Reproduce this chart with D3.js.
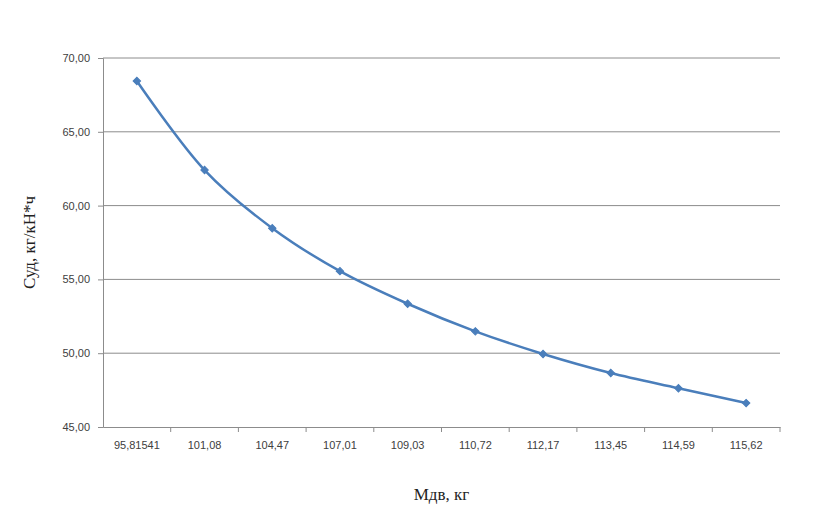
<!DOCTYPE html>
<meta charset="utf-8">
<style>
  body { margin: 0; background: #fff; }
  text { font-family: "Liberation Sans", Arial, sans-serif; }
</style>
<script src="https://cdn.jsdelivr.net/npm/d3@7"></script>
<body>
<script>

var categories = ["95,81541", "101,08", "104,47", "107,01", "109,03", "110,72", "112,17", "113,45", "114,59", "115,62"];
var values = [68.44, 62.41, 58.47, 55.56, 53.35, 51.48, 49.95, 48.66, 47.63, 46.62];
var yTicks = [45, 50, 55, 60, 65, 70];

var width = 834,
    height = 531,
    margin = {top: 58, right: 54, bottom: 104, left: 103};

var svg = d3.select('body')
            .append('svg')
            .attr('width', width)
            .attr('height', height)

var x = d3.scaleBand()
  .domain(categories)
  .range([margin.left, width - margin.right]);

var y = d3.scaleLinear()
  .domain([45, 70])
  .range([height - margin.bottom, margin.top]);

// gridlines
svg.append("g")
  .selectAll("line")
  .data(yTicks.slice(1))
  .enter().append("line")
  .attr("x1", margin.left)
  .attr("x2", width - margin.right)
  .attr("y1", function(d) { return y(d); })
  .attr("y2", function(d) { return y(d); })
  .style("stroke", "#8c8c8c")
  .style("stroke-width", 1);

// y axis
var yAxis = svg.append("g")
  .attr("transform", "translate(" + margin.left + ",0)")
  .call(d3.axisLeft(y)
    .tickValues(yTicks)
    .tickSize(5)
    .tickPadding(8)
    .tickFormat(function(d) { return d3.format(".2f")(d).replace(".", ","); }));

// x axis
var xAxis = svg.append("g")
  .attr("transform", "translate(0," + (height - margin.bottom) + ")")
  .call(d3.axisBottom(x).tickSize(0).tickPadding(14));

xAxis.selectAll(".tick")
  .append("line")
  .attr("x1", x.bandwidth() / 2)
  .attr("x2", x.bandwidth() / 2)
  .attr("y2", 5)
  .style("stroke", "#8c8c8c");

svg.selectAll(".domain").style("stroke", "#8c8c8c");
svg.selectAll(".tick line").style("stroke", "#8c8c8c");
svg.selectAll(".tick text")
  .style("font-size", "11px")
  .style("fill", "#404040");

// line
var line = d3.line()
  .x(function(d, i) { return x(categories[i]) + x.bandwidth() / 2; })
  .y(function(d) { return y(d); })
  .curve(d3.curveCatmullRom);

svg.append("path")
  .datum(values)
  .attr("d", line)
  .style("fill", "none")
  .style("stroke", "#4a7ebb")
  .style("stroke-width", 2.5);

// square markers turned 45 degrees, like excel diamonds
svg.append("g")
  .selectAll("path")
  .data(values)
  .enter().append("path")
  .attr("d", d3.symbol().type(d3.symbolSquare).size(28))
  .attr("transform", function(d, i) {
    return "translate(" + (x(categories[i]) + x.bandwidth() / 2) + "," + y(d) + ") rotate(45)";
  })
  .style("fill", "#4a7ebb")
  .style("stroke", "#4a7ebb")
  .style("stroke-width", 1);

// axis titles
svg.append("text")
  .text("Суд, кг/кН*ч")
  .attr("text-anchor", "middle")
  .attr("transform", "translate(35," + ((margin.top + height - margin.bottom) / 2) + ") rotate(-90)")
  .style("font-family", "'Liberation Serif', 'Times New Roman', serif")
  .style("font-size", "17px")
  .style("fill", "#222");

svg.append("text")
  .text("Мдв, кг")
  .attr("text-anchor", "middle")
  .attr("x", (margin.left + width - margin.right) / 2)
  .attr("y", 500)
  .style("font-family", "'Liberation Serif', 'Times New Roman', serif")
  .style("font-size", "17px")
  .style("fill", "#222");

</script>
</body>
